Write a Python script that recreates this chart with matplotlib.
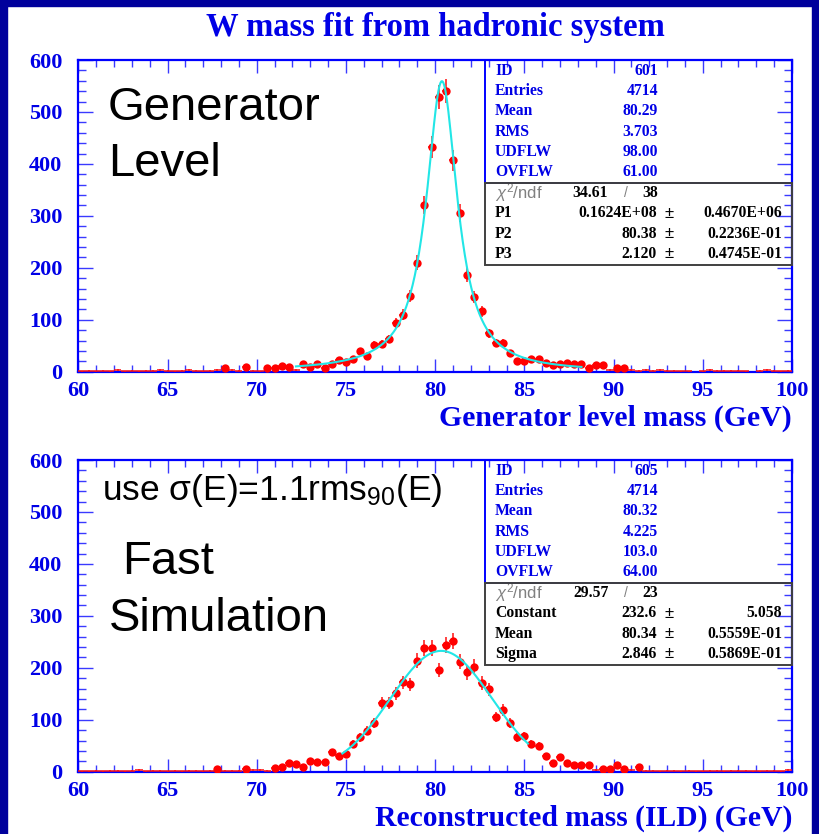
import numpy as np
import matplotlib
matplotlib.use("Agg")
import matplotlib.pyplot as plt
from matplotlib.patches import Rectangle
from matplotlib.ticker import MultipleLocator

plt.rcParams['mathtext.fontset'] = 'custom'
plt.rcParams['mathtext.rm'] = 'Liberation Sans'
plt.rcParams['mathtext.it'] = 'Liberation Sans:italic'

# ---------------- data ----------------
bin_edges = np.linspace(60, 100, 101)   # 100 bins of 0.4 GeV

gen_counts = [1, 2, 1, 2, 1, 3, 1, 2, 1, 2,
              2, 3, 2, 1, 2, 3, 2, 1, 2, 4,
              7, 3, 2, 10, 2, 1, 7, 7, 11, 10,
              4, 14, 10, 14, 8, 14, 22, 18, 25, 40,
              31, 51, 53, 63, 93, 110, 146, 210, 321, 433,
              529, 540, 407, 306, 187, 144, 116, 74, 55, 56,
              36, 21, 21, 24, 24, 16, 13, 14, 16, 14,
              14, 8, 12, 13, 3, 7, 7, 3, 2, 3,
              2, 3, 2, 2, 1, 1, 0, 1, 3, 2,
              2, 2, 2, 1, 0, 2, 3, 2, 1, 2]

sim_counts = [1, 1, 2, 1, 2, 2, 1, 2, 3, 1,
              2, 2, 1, 2, 1, 2, 2, 1, 2, 6,
              2, 2, 2, 6, 3, 3, 2, 7, 10, 16,
              15, 10, 21, 19, 18, 37, 31, 34, 53, 66,
              79, 93, 132, 132, 151, 172, 168, 214, 239, 239,
              196, 244, 252, 212, 191, 202, 171, 159, 105, 119,
              94, 66, 69, 53, 50, 31, 17, 28, 17, 13,
              13, 13, 3, 6, 6, 13, 6, 3, 9, 2,
              2, 1, 2, 2, 1, 2, 1, 1, 2, 2,
              1, 2, 2, 2, 1, 1, 2, 2, 1, 3]

# fit results (from stat boxes)
gen_fit = dict(P1=0.1624e8, P2=80.38, P3=2.120, lo=72.2, hi=88.2)
sim_fit = dict(const=232.6, mean=80.34, sigma=2.846, lo=74.8, hi=85.2)

gen_stats = [("ID", "601"), ("Entries", "4714"), ("Mean", "80.29"),
             ("RMS", "3.703"), ("UDFLW", "98.00"), ("OVFLW", "61.00")]
gen_chi = ("34.61", "38")
gen_pars = [("P1", "0.1624E+08", "0.4670E+06"),
            ("P2", "80.38", "0.2236E-01"),
            ("P3", "2.120", "0.4745E-01")]

sim_stats = [("ID", "605"), ("Entries", "4714"), ("Mean", "80.32"),
             ("RMS", "4.225"), ("UDFLW", "103.0"), ("OVFLW", "64.00")]
sim_chi = ("29.57", "23")
sim_pars = [("Constant", "232.6", "5.058"),
            ("Mean", "80.34", "0.5559E-01"),
            ("Sigma", "2.846", "0.5869E-01")]

title = "W mass fit from hadronic system"
gen_xlabel = "Generator level mass (GeV)"
sim_xlabel = "Reconstructed mass (ILD) (GeV)"

# ---------------- style ----------------
W, H = 819, 834
BLUE = '#0000e6'
FRAME = '#0000ff'
DARK = '#00009c'
SERIF = 'Liberation Serif'
SANS = 'Liberation Sans'

fig = plt.figure(figsize=(W / 100, H / 100), dpi=100)
fig.patch.set_facecolor('white')

# dark blue slide border
fig.add_artist(Rectangle((0, 0), 7 / W, 1, transform=fig.transFigure, color=DARK, zorder=0))
fig.add_artist(Rectangle((1 - 7 / W, 0), 7 / W, 1, transform=fig.transFigure, color=DARK, zorder=0))
fig.add_artist(Rectangle((0, 1 - 6 / H), 1, 6 / H, transform=fig.transFigure, color=DARK, zorder=0))


def px(x, y):
    return x / W, 1 - y / H


def make_axes(top_px, bottom_px):
    left, right = 78.3, 792
    ax = fig.add_axes([left / W, 1 - bottom_px / H, (right - left) / W, (bottom_px - top_px) / H])
    ax.set_xlim(60, 100)
    ax.set_ylim(0, 600)
    ax.xaxis.set_major_locator(MultipleLocator(5))
    ax.xaxis.set_minor_locator(MultipleLocator(1))
    ax.yaxis.set_major_locator(MultipleLocator(100))
    ax.yaxis.set_minor_locator(MultipleLocator(20))
    for s in ax.spines.values():
        s.set_color(FRAME)
        s.set_linewidth(1.6)
    ax.tick_params(which='both', direction='in', top=True, right=True, color='#3a3aff', width=1.0)
    ax.tick_params(axis='x', which='major', length=9.5, pad=6.5)
    ax.tick_params(axis='x', which='minor', length=5)
    ax.tick_params(axis='y', which='major', length=11, pad=11.5)
    ax.tick_params(axis='y', which='minor', length=5.5)
    for lab in ax.get_xticklabels() + ax.get_yticklabels():
        lab.set_fontfamily(SERIF)
        lab.set_fontweight('bold')
        lab.set_fontsize(16)
        lab.set_color(BLUE)
    return ax


def draw_hist(ax, counts):
    counts = np.asarray(counts, dtype=float)
    centers = 0.5 * (bin_edges[:-1] + bin_edges[1:])
    halfw = 0.5 * np.diff(bin_edges)
    nz = counts > 0
    ax.errorbar(centers[nz], counts[nz], yerr=np.sqrt(counts[nz]), xerr=halfw[nz],
                fmt='none', ecolor='#ff1010', elinewidth=1.1, capsize=0, zorder=3)
    big = counts >= 5
    ax.plot(centers[big], counts[big], 'o', color='#ff0000', markersize=6.0,
            markeredgewidth=0, zorder=4)


def stats_box(ax, stats, chi, pars):
    x0 = 0.570
    rows_y = [0.9657 - 0.0653 * i for i in range(10)]
    ax.add_patch(Rectangle((x0, 0.604), 1 - x0, 0.396, transform=ax.transAxes,
                           fill=False, edgecolor=FRAME, lw=1.4, clip_on=False, zorder=5))
    ax.add_patch(Rectangle((x0, 0.342), 1 - x0, 0.262, transform=ax.transAxes,
                           fill=False, edgecolor='#404040', lw=1.4, clip_on=False, zorder=5))
    kw = dict(transform=ax.transAxes, fontfamily=SERIF, fontweight='bold', fontsize=11.3,
              va='center')
    for (lab, val), y in zip(stats, rows_y[:6]):
        ax.text(0.584, y, lab, ha='left', color=BLUE, **kw)
        ax.text(0.812, y, val, ha='right', color=BLUE, **kw)
    y = rows_y[6]
    ax.text(0.584, y, r"$\chi^2$/ndf", ha='left', va='center', transform=ax.transAxes,
            fontfamily=SANS, fontsize=12, color='#808080')
    ax.text(0.7426, y, chi[0], ha='right', color='black', **kw)
    ax.text(0.767, y, "/", ha='center', transform=ax.transAxes, fontfamily=SANS,
            fontsize=10, color='#808080', va='center')
    ax.text(0.812, y, chi[1], ha='right', color='black', **kw)
    for (lab, val, err), y in zip(pars, rows_y[7:10]):
        ax.text(0.584, y, lab, ha='left', color='black', **kw)
        ax.text(0.811, y, val, ha='right', color='black', **kw)
        ax.text(0.828, y, "\u00b1", ha='center', transform=ax.transAxes, fontfamily=SANS,
                fontsize=12, color='black', va='center')
        ax.text(0.986, y, err, ha='right', color='black', **kw)


# ---------------- top panel ----------------
ax1 = make_axes(60, 371.7)
draw_hist(ax1, gen_counts)
m = np.linspace(gen_fit['lo'], gen_fit['hi'], 400)
bw = gen_fit['P1'] / ((m ** 2 - gen_fit['P2'] ** 2) ** 2 + gen_fit['P2'] ** 2 * gen_fit['P3'] ** 2)
ax1.plot(m, bw, color='#22e6e6', lw=1.5, zorder=5)
stats_box(ax1, gen_stats, gen_chi, gen_pars)

# ---------------- bottom panel ----------------
ax2 = make_axes(460, 771.7)
draw_hist(ax2, sim_counts)
m2 = np.linspace(sim_fit['lo'], sim_fit['hi'], 400)
g = sim_fit['const'] * np.exp(-0.5 * ((m2 - sim_fit['mean']) / sim_fit['sigma']) ** 2)
ax2.plot(m2, g, color='#22e6e6', lw=1.5, zorder=5)
stats_box(ax2, sim_stats, sim_chi, sim_pars)

# ---------------- texts ----------------
fig.text(*px(435, 36), title, ha='center', va='baseline', fontfamily=SERIF,
         fontweight='bold', fontsize=23.5, color=BLUE)
fig.text(*px(792, 426), gen_xlabel, ha='right', va='baseline', fontfamily=SERIF,
         fontweight='bold', fontsize=21.4, color=BLUE)
fig.text(*px(792, 826), sim_xlabel, ha='right', va='baseline', fontfamily=SERIF,
         fontweight='bold', fontsize=21.3, color=BLUE)

big = dict(ha='left', va='baseline', fontfamily=SANS, fontsize=34, color='black')
fig.text(*px(108, 120), "Generator", **big)
fig.text(*px(108, 176), "Level", **big)
fig.text(*px(122, 574), "Fast", **big)
fig.text(*px(109, 631), "Simulation", **big)
fig.text(*px(102, 500), "use \u03c3(E)=1.1rms$_{90}$(E)", ha='left', va='baseline',
         fontfamily=SANS, fontsize=25.5, color='black')

fig.savefig("out.png", dpi=100, facecolor=fig.get_facecolor())
